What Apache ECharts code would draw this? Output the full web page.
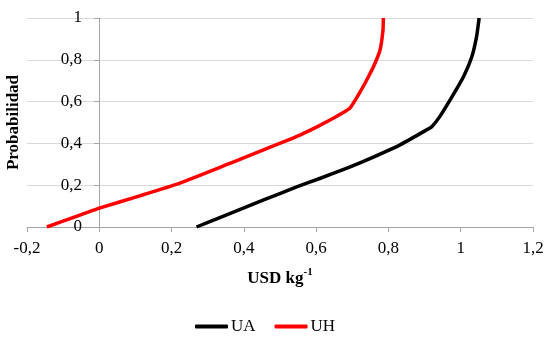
<!DOCTYPE html>
<html>
<head>
<meta charset="utf-8">
<script src="https://cdn.jsdelivr.net/npm/echarts@6/dist/echarts.min.js"></script>
<style>html,body{margin:0;padding:0;background:#fff;}#c{width:550px;height:338px;}</style>
</head>
<body>
<div id="c"></div>
<script>
var uaX = [0.269, 0.361, 0.453, 0.546, 0.610, 0.680, 0.739, 0.831, 0.905, 0.920, 0.942, 0.979, 1.008, 1.031, 1.044, 1.051];
var uaY = [0, 0.064, 0.128, 0.192, 0.232, 0.278, 0.320, 0.392, 0.464, 0.480, 0.528, 0.632, 0.720, 0.816, 0.912, 1.0];
var uhX = [-0.145, -0.073, 0.0, 0.112, 0.223, 0.352, 0.389, 0.499, 0.555, 0.601, 0.647, 0.693, 0.725, 0.745, 0.762, 0.777, 0.785, 0.786];
var uhY = [0, 0.045, 0.090, 0.149, 0.210, 0.298, 0.324, 0.400, 0.440, 0.478, 0.520, 0.568, 0.656, 0.720, 0.780, 0.848, 0.943, 1.0];
var seriesNames = ['UA', 'UH'];
var xTitle = 'USD kg';
var xTitleSup = '-1';
var yTitle = 'Probabilidad';

function pairs(xs, ys) { return xs.map(function (x, i) { return [x, ys[i]]; }); }
function fmt(v) { var r = Math.round(v * 10) / 10; return String(r).replace('.', ','); }
var font = 'Liberation Serif';
var chart = echarts.init(document.getElementById('c'), null, { renderer: 'canvas' });
chart.setOption({
  animation: false,
  backgroundColor: '#fff',
  grid: { left: 27, right: 17, top: 18, bottom: 111, containLabel: false, outerBoundsMode: 'none' },
  legend: {
    data: seriesNames,
    left: 190, top: 313,
    icon: 'roundRect', itemWidth: 33, itemHeight: 4, itemGap: 19,
    textStyle: { fontFamily: font, fontSize: 17, color: '#000', padding: [0, 0, 0, -2] }
  },
  xAxis: {
    type: 'value', min: -0.2, max: 1.2, interval: 0.2,
    name: '{a|' + xTitle + '}{s|' + xTitleSup + '}',
    nameLocation: 'middle', nameGap: 40,
    nameTextStyle: {
      rich: {
        a: { fontFamily: font, fontSize: 17, fontWeight: 'bold', color: '#000', verticalAlign: 'bottom', lineHeight: 20 },
        s: { fontFamily: font, fontSize: 11, fontWeight: 'bold', color: '#000', verticalAlign: 'top', lineHeight: 20, padding: [0, 0, 8, 0] }
      }
    },
    axisLine: { show: true, lineStyle: { color: '#a6a6a6', width: 1 } },
    axisTick: { show: true, length: 5, lineStyle: { color: '#a6a6a6' } },
    axisLabel: { fontFamily: font, fontSize: 17, color: '#000', margin: 13, formatter: fmt },
    splitLine: { show: false }
  },
  yAxis: {
    type: 'value', min: 0, max: 1, interval: 0.2,
    offset: -72,
    name: yTitle, nameLocation: 'middle', nameGap: 77, nameRotate: 90,
    nameTextStyle: { fontFamily: font, fontSize: 17, fontWeight: 'bold', color: '#000' },
    axisLine: { show: true, onZero: false, lineStyle: { color: '#a6a6a6', width: 1 } },
    axisTick: { show: true, length: 5, lineStyle: { color: '#a6a6a6' } },
    axisLabel: { fontFamily: font, fontSize: 17, color: '#000', margin: 17, formatter: fmt },
    splitLine: { show: true, lineStyle: { color: '#d9d9d9', width: 1 } }
  },
  series: [
    { name: seriesNames[0], type: 'line', data: pairs(uaX, uaY), showSymbol: false, symbol: 'none', smooth: 0.15,
      lineStyle: { color: '#000', width: 3.5, join: 'round' }, itemStyle: { color: '#000' } },
    { name: seriesNames[1], type: 'line', data: pairs(uhX, uhY), showSymbol: false, symbol: 'none', smooth: 0.15,
      lineStyle: { color: '#ff0000', width: 3.5, join: 'round' }, itemStyle: { color: '#ff0000' } }
  ]
});
</script>
</body>
</html>
